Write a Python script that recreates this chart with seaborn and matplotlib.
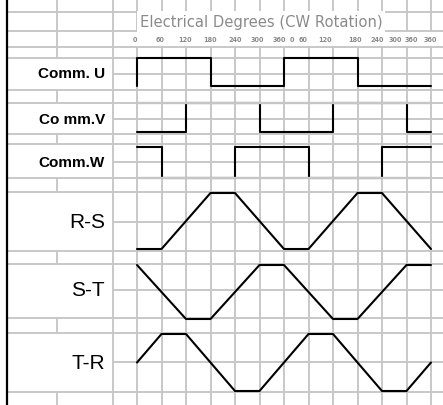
import numpy as np
import pandas as pd
import matplotlib
matplotlib.use("Agg")
import matplotlib.pyplot as plt
import seaborn as sns
from matplotlib.patches import Rectangle

# ---------------- data ----------------
signal_names = ["Comm. U", "Co mm.V", "Comm.W", "R-S", "S-T", "T-R"]

comm_u_deg = [0, 0, 180, 180, 360, 360, 540, 540, 720]
comm_u_lvl = [0, 1, 1, 0, 0, 1, 1, 0, 0]
comm_v_deg = [0, 120, 120, 300, 300, 480, 480, 660, 660, 720]
comm_v_lvl = [0, 0, 1, 1, 0, 0, 1, 1, 0, 0]
comm_w_deg = [0, 60, 60, 240, 240, 420, 420, 600, 600, 720]
comm_w_lvl = [1, 1, 0, 0, 1, 1, 0, 0, 1, 1]
rs_deg = [0, 60, 180, 240, 360, 420, 540, 600, 720]
rs_lvl = [0, 0, 1, 1, 0, 0, 1, 1, 0]
st_deg = [0, 120, 180, 300, 360, 480, 540, 660, 720]
st_lvl = [1, 0, 0, 1, 1, 0, 0, 1, 1]
tr_deg = [0, 60, 120, 240, 300, 420, 480, 600, 660, 720]
tr_lvl = [0.5, 1, 1, 0, 0, 1, 1, 0, 0, 0.5]

tick_labels = ["0", "60", "120", "180", "240", "300", "360", "0", "60",
               "120", "180", "240", "300", "360", "360"]
title_text = "Electrical Degrees (CW Rotation)"

# ---------------- layout (pixel rows, top-down) ----------------
W_PX, H_PX = 443, 406
X0_PX, PX_PER_DEG = 137.0, 24.5 / 60.0


def deg(px):
    return (px - X0_PX) / PX_PER_DEG


row_hi = [58.5, 104, 148, 194, 266, 335]
row_lo = [87, 133, 179, 250, 320, 392]
label_y = [74, 120, 163, 223, 291, 364]
label_size = [11, 11, 11, 15, 15, 15]
label_weight = ["bold", "bold", "bold", "normal", "normal", "normal"]
full_rows = [13, 32, 48, 59, 91, 104, 135, 145, 179, 193, 252, 265, 319, 334, 393]
mid_rows = [75, 120, 163, 223, 291, 363]
thin_spans = [(0, 59), (91, 104), (135, 145), (179, 193), (252, 265), (319, 334), (393, 406)]
tick_px = [135, 160, 185, 210, 235, 257, 279, 292, 303, 325, 355, 377, 395, 411, 430]
GRID = "#c6c6c6"
GLW = 1.35

series = [(comm_u_deg, comm_u_lvl), (comm_v_deg, comm_v_lvl), (comm_w_deg, comm_w_lvl),
          (rs_deg, rs_lvl), (st_deg, st_lvl), (tr_deg, tr_lvl)]
frames = []
for i, (d, l) in enumerate(series):
    l = np.asarray(l, float)
    frames.append(pd.DataFrame({
        "signal": signal_names[i],
        "deg": d,
        "y": row_lo[i] - l * (row_lo[i] - row_hi[i]),
    }))
df = pd.concat(frames, ignore_index=True)

# ---------------- figure ----------------
sns.set_style("white")
plt.rcParams["font.family"] = ["Liberation Sans", "DejaVu Sans"]

fig = plt.figure(figsize=(W_PX / 100, H_PX / 100), dpi=100)
ax = fig.add_axes([0, 0, 1, 1])

# grid: vertical lines every 60 deg
for g in range(-60, 721, 60):
    ax.plot([g, g], [0, H_PX], color=GRID, lw=GLW, zorder=1)
# short vertical divider in label column (thin rows only)
for a, b in thin_spans:
    ax.plot([deg(57), deg(57)], [a, b], color=GRID, lw=GLW, zorder=1)
# horizontal lines
for r in full_rows:
    ax.plot([deg(7), deg(W_PX)], [r, r], color=GRID, lw=GLW, zorder=1)
for r in mid_rows:
    ax.plot([-60, deg(W_PX)], [r, r], color=GRID, lw=GLW, zorder=1)

# left black border
ax.plot([deg(7), deg(7)], [0, H_PX], color="black", lw=1.6, zorder=8)

# tick label row background and labels
ax.add_patch(Rectangle((deg(125), 33.4), deg(W_PX + 5) - deg(125), 13.2,
                       facecolor="white", edgecolor="none", zorder=2))
for lab, px in zip(tick_labels, tick_px):
    ax.text(deg(px), 40.5, lab, ha="center", va="center", fontsize=4.7,
            color="#8a8a8a", family="DejaVu Sans", fontweight="bold", zorder=3)

# title
ax.text(deg(261), 22.5, title_text, ha="center", va="center", fontsize=10.6,
        color="#8a8a8a", family="DejaVu Sans", zorder=3,
        bbox=dict(facecolor="white", edgecolor="none", pad=2.0))

# signals
sns.lineplot(data=df, x="deg", y="y", units="signal", estimator=None, sort=False,
             color="black", lw=1.5, ax=ax, zorder=4, legend=False)
ax.set_xlim(deg(0), deg(W_PX))
ax.set_ylim(H_PX, 0)
ax.axis("off")

# grid lines drawn over two signal levels (as in the reference)
for r in (104, 179):
    ax.plot([0, 720], [r, r], color=GRID, lw=1.7, zorder=5)

# row labels
for name, yy, fs, fw in zip(signal_names, label_y, label_size, label_weight):
    ax.text(deg(105), yy, name, ha="right", va="center", fontsize=fs,
            fontweight=fw, color="black", zorder=6)

fig.savefig("out.png", dpi=100)
